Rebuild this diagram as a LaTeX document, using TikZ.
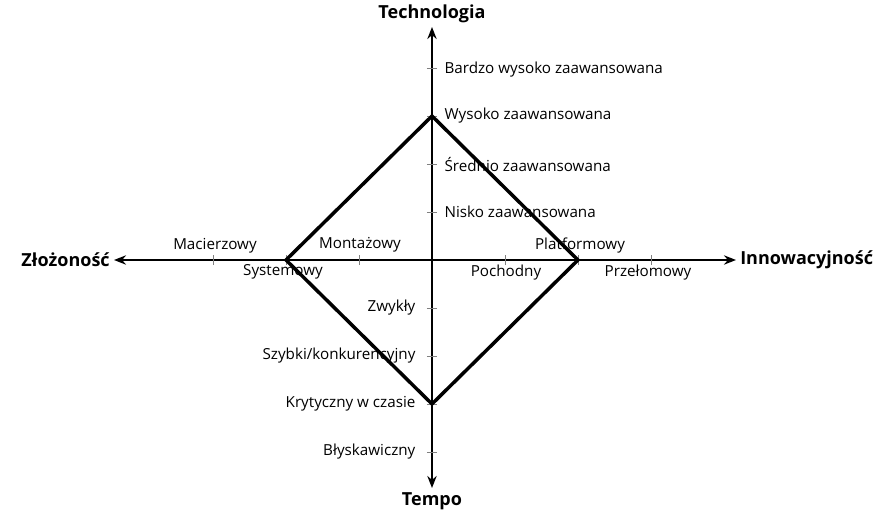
\documentclass[tikz,border=0pt]{standalone}
\usepackage{fontspec}
\setmainfont{Open Sans}
\usetikzlibrary{arrows.meta}

\begin{document}
\begin{tikzpicture}[x=0.75pt,y=0.75pt]
\tikzstyle{every node}=[font=\fontsize{11.4}{13}\selectfont, inner sep=1pt];
\tikzstyle{title}=[font=\fontsize{13.5}{16}\selectfont\bfseries, inner sep=3pt];
\tikzstyle{axis}=[line width=1.5pt, {Stealth[length=9pt,width=7pt]}-{Stealth[length=9pt,width=7pt]}];
\tikzstyle{tick}=[gray, line width=0.5pt];
\tikzstyle{diamondline}=[line width=2.6pt, line join=miter];
\useasboundingbox (-432,260) rectangle (447,-251);

\node[title, anchor=east] (zlo) at (-318,0) {Złożoność};
\node[title, anchor=west] (inn) at (304,0) {Innowacyjność};
\node[title, anchor=south] (tech) at (0,233) {Technologia};
\node[title, anchor=north] (tempo) at (0,-228) {Tempo};

\draw[axis] (zlo.east) -- (inn.west);
\draw[axis] (tempo.north) -- (tech.south);

\foreach \x in {-219,-146,-73,73,146,219}
  \draw[tick] (\x,-5) -- (\x,5);
\foreach \y in {-192,-144,-96,-48,48,96,144,192}
  \draw[tick] (-5,\y) -- (5,\y);

\node (mac) at (-217,14) {Macierzowy};
\node (mon) at (-72,15) {Montażowy};
\node (sys) at (-149,-12) {Systemowy};
\node (poc) at (74,-13) {Pochodny};
\node (pla) at (148,14) {Platformowy};
\node (prz) at (216,-13) {Przełomowy};

\node[anchor=west] (bws) at (11,190) {Bardzo wysoko zaawansowana};
\node[anchor=west] (wys) at (11,144) {Wysoko zaawansowana};
\node[anchor=west] (sre) at (11,96) {Średnio zaawansowana};
\node[anchor=west] (nis) at (11,48) {Nisko zaawansowana};

\node[anchor=east] (zwy) at (-15,-48) {Zwykły};
\node[anchor=east] (szy) at (-15,-96) {Szybki/konkurencyjny};
\node[anchor=east] (kry) at (-15,-144) {Krytyczny w czasie};
\node[anchor=east] (bly) at (-15,-192) {Błyskawiczny};

\coordinate (top) at (0,144);
\coordinate (right) at (146,0);
\coordinate (bottom) at (0,-144);
\coordinate (left) at (-146,0);
\draw[diamondline] (top) -- (right) -- (bottom) -- (left) -- cycle;
\end{tikzpicture}
\end{document}
